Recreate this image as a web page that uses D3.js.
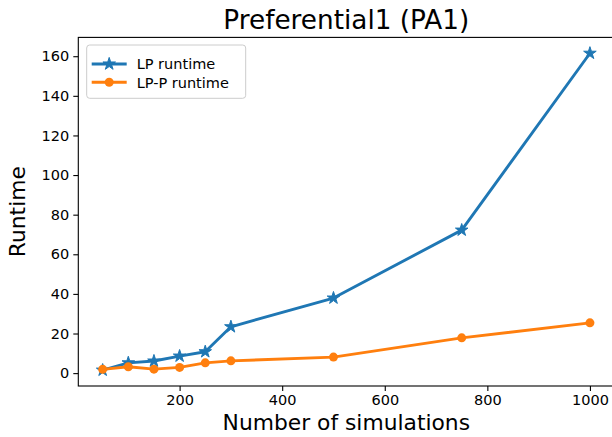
<!DOCTYPE html>
<html>
<head>
<meta charset="utf-8">
<script src="https://cdn.jsdelivr.net/npm/d3@7"></script>
<style>
  body { margin: 0; background: #fff; }
  svg { display: block; font-family: "DejaVu Sans", sans-serif; }
</style>
</head>
<body>
<div id="chart"></div>
<script>
// data
var simulations = [50, 100, 150, 200, 250, 300, 500, 750, 1000];
var lpRuntime = [1.5, 5.2, 6.1, 8.6, 10.8, 23.4, 37.9, 72.2, 161.5];
var lppRuntime = [1.9, 3.2, 2.0, 2.9, 5.2, 6.2, 8.1, 17.8, 25.4];
var xTicks = [200, 400, 600, 800, 1000];
var yTicks = [0, 20, 40, 60, 80, 100, 120, 140, 160];
var seriesNames = ["LP runtime", "LP-P runtime"];

const width = 612, height = 437;
const plotLeft = 78.3, plotRight = 614.3, plotTop = 37.4, plotBottom = 386;

const svg = d3.select("#chart")
    .append("svg")
    .attr("width", width)
    .attr("height", height);

// matplotlib style 5% margins
function padded(lo, hi) {
    var m = (hi - lo) * 0.05;
    return [lo - m, hi + m];
}

const x = d3.scaleLinear()
    .domain(padded(d3.min(simulations), d3.max(simulations)))
    .range([plotLeft, plotRight]);

const allY = lpRuntime.concat(lppRuntime);
const y = d3.scaleLinear()
    .domain(padded(d3.min(allY), d3.max(allY)))
    .range([plotBottom, plotTop]);

// axes
const xAxis = svg.append("g")
    .attr("transform", "translate(0," + plotBottom + ")")
    .call(d3.axisBottom(x).tickValues(xTicks).tickFormat(d3.format("d"))
        .tickSize(5).tickPadding(4).tickSizeOuter(0));
const yAxis = svg.append("g")
    .attr("transform", "translate(" + plotLeft + ",0)")
    .call(d3.axisLeft(y).tickValues(yTicks).tickFormat(d3.format("d"))
        .tickSize(5).tickPadding(4).tickSizeOuter(0));

[xAxis, yAxis].forEach(function (g) {
    g.selectAll("text")
        .style("font-family", "DejaVu Sans")
        .style("font-size", "14.5px")
        .attr("fill", "#000");
    g.selectAll("line").attr("stroke", "#000").attr("stroke-width", 1.1);
    g.select(".domain").remove();
});

// spines
svg.append("rect")
    .attr("x", plotLeft)
    .attr("y", plotTop)
    .attr("width", plotRight - plotLeft)
    .attr("height", plotBottom - plotTop)
    .attr("fill", "none")
    .attr("stroke", "#000")
    .attr("stroke-width", 1.1);

// labels
svg.append("text")
    .attr("x", (plotLeft + plotRight) / 2)
    .attr("y", 29)
    .attr("text-anchor", "middle")
    .style("font-size", "26.3px")
    .text("Preferential1 (PA1)");

svg.append("text")
    .attr("x", (plotLeft + plotRight) / 2)
    .attr("y", 430)
    .attr("text-anchor", "middle")
    .style("font-size", "21.8px")
    .text("Number of simulations");

svg.append("text")
    .attr("transform", "translate(25," + (plotTop + plotBottom) / 2 + ") rotate(-90)")
    .attr("text-anchor", "middle")
    .style("font-size", "21.8px")
    .text("Runtime");

// star like matplotlib '*'
function starPath(r) {
    var pts = [];
    for (var i = 0; i < 10; i++) {
        var rr = i % 2 === 0 ? r : r * 0.381966;
        var a = -Math.PI / 2 + i * Math.PI / 5;
        pts.push([rr * Math.cos(a), rr * Math.sin(a)]);
    }
    return "M" + pts.join("L") + "Z";
}

const line = d3.line()
    .x(function (d) { return x(d[0]); })
    .y(function (d) { return y(d[1]); });

const blue = "#1f77b4", orange = "#ff7f0e";

function drawSeries(values, color, marker) {
    var pts = simulations.map(function (s, i) { return [s, values[i]]; });
    var g = svg.append("g");
    g.append("path")
        .datum(pts)
        .attr("d", line)
        .attr("fill", "none")
        .attr("stroke", color)
        .attr("stroke-width", 2.9)
        .attr("stroke-linejoin", "round");
    if (marker === "star") {
        g.selectAll("path.m").data(pts).enter()
            .append("path")
            .attr("class", "m")
            .attr("d", starPath(6.6))
            .attr("transform", function (d) { return "translate(" + x(d[0]) + "," + y(d[1]) + ")"; })
            .attr("fill", color)
            .attr("stroke", color)
            .attr("stroke-width", 1);
    } else {
        g.selectAll("circle").data(pts).enter()
            .append("circle")
            .attr("cx", function (d) { return x(d[0]); })
            .attr("cy", function (d) { return y(d[1]); })
            .attr("r", 4.5)
            .attr("fill", color);
    }
}

drawSeries(lpRuntime, blue, "star");
drawSeries(lppRuntime, orange, "circle");

// legend
const legend = svg.append("g");
legend.append("rect")
    .attr("x", 86.7)
    .attr("y", 45)
    .attr("width", 159)
    .attr("height", 53.3)
    .attr("rx", 3)
    .attr("fill", "#fff")
    .attr("fill-opacity", 0.8)
    .attr("stroke", "#cccccc")
    .attr("stroke-width", 1);

[[blue, "star"], [orange, "circle"]].forEach(function (s, i) {
    var ly = 64 + i * 18.3;
    legend.append("line")
        .attr("x1", 91.7).attr("x2", 126.7)
        .attr("y1", ly).attr("y2", ly)
        .attr("stroke", s[0])
        .attr("stroke-width", 2.9);
    if (s[1] === "star") {
        legend.append("path")
            .attr("d", starPath(6.6))
            .attr("transform", "translate(109.2," + ly + ")")
            .attr("fill", s[0]).attr("stroke", s[0]).attr("stroke-width", 1);
    } else {
        legend.append("circle")
            .attr("cx", 109.2).attr("cy", ly).attr("r", 4.5)
            .attr("fill", s[0]);
    }
    legend.append("text")
        .attr("x", 136.7)
        .attr("y", ly + 5.2)
        .style("font-size", "14.5px")
        .text(seriesNames[i]);
});
</script>
</body>
</html>
